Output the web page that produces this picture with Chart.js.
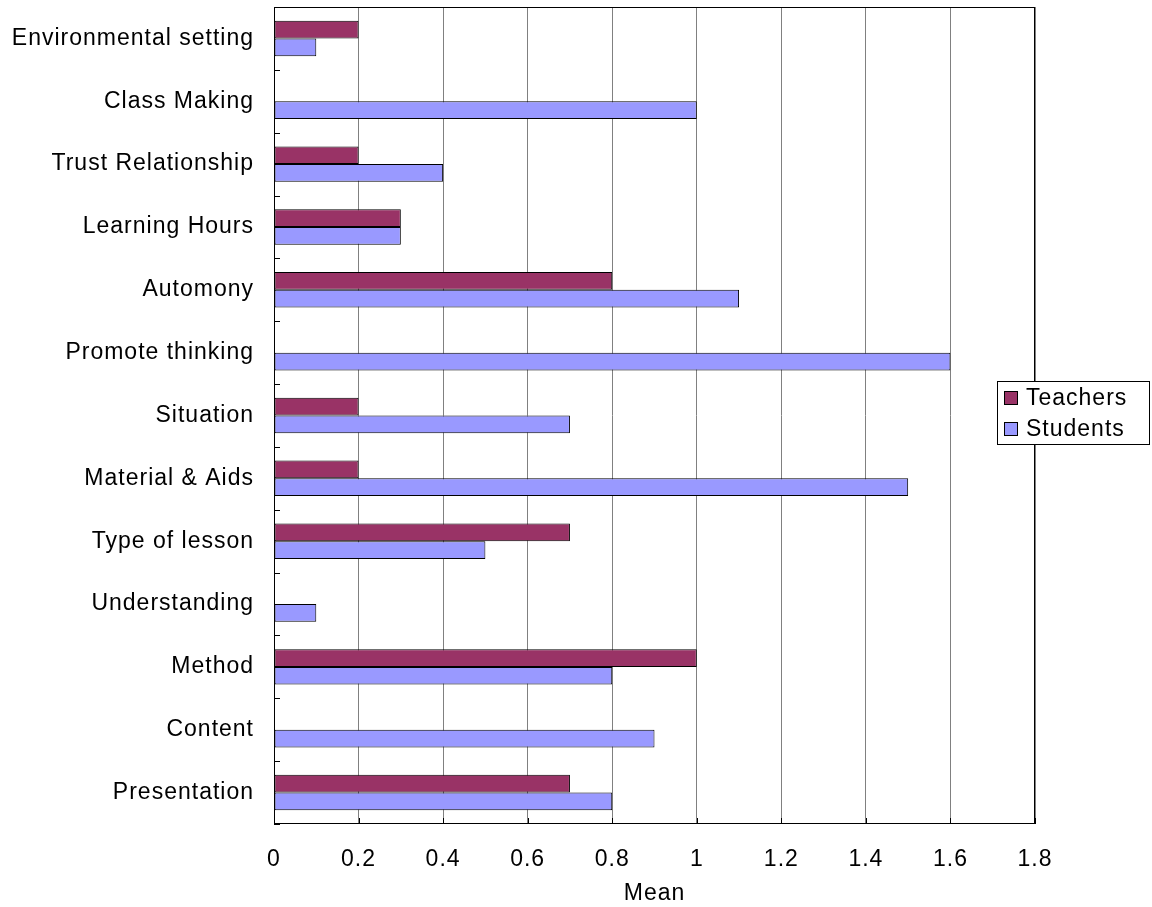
<!DOCTYPE html>
<html>
<head>
<meta charset="utf-8">
<script src="https://cdn.jsdelivr.net/npm/chart.js@4/dist/chart.umd.min.js"></script>
<style>
html,body{margin:0;padding:0;background:#fff;}
#wrap{width:1152px;height:907px;}
</style>
</head>
<body>
<div id="wrap"><canvas id="c" width="1152" height="907"></canvas></div>
<script>
const categories = ["Environmental setting","Class Making","Trust Relationship","Learning Hours","Automony","Promote thinking","Situation","Material & Aids","Type of lesson","Understanding","Method","Content","Presentation"];
const teachers = [0.2,0,0.2,0.3,0.8,0,0.2,0.2,0.7,0,1.0,0,0.7];
const students = [0.1,1.0,0.4,0.3,1.1,1.6,0.7,1.5,0.5,0.1,0.8,0.9,0.8];
const seriesNames = ["Teachers","Students"];
const xTicks = [0,0.2,0.4,0.6,0.8,1,1.2,1.4,1.6,1.8];
const axisTitle = "Mean";

const FONT = "'Liberation Sans', Arial, sans-serif";
const FS = 23;
const LS = '1px';

const spacingPlugin = {
  id:'spacing',
  beforeUpdate(chart){ chart.ctx.letterSpacing = LS; },
  beforeLayout(chart){ chart.ctx.letterSpacing = LS; },
  beforeDraw(chart){ chart.ctx.letterSpacing = LS; }
};

const framePlugin = {
  id:'frame',
  afterDraw(chart){
    const ctx = chart.ctx, a = chart.chartArea;
    ctx.save();
    ctx.strokeStyle = '#000'; ctx.lineWidth = 1;
    ctx.strokeRect(Math.round(a.left)+0.5, Math.round(a.top)+0.5, Math.round(a.right-a.left)-1, Math.round(a.bottom-a.top)-1);
    const y = chart.scales.y;
    const step = y.getPixelForTick(1)-y.getPixelForTick(0);
    ctx.beginPath();
    for(let i=0;i<=categories.length;i++){
      const p = Math.round(y.getPixelForTick(0) - step/2 + i*step)+0.5;
      ctx.moveTo(a.left, p); ctx.lineTo(a.left+6, p);
    }
    const x = chart.scales.x;
    xTicks.forEach(v=>{
      const p = Math.round(x.getPixelForValue(v))+0.5;
      ctx.moveTo(p, a.bottom); ctx.lineTo(p, a.bottom-6);
    });
    ctx.stroke();
    // legend
    const lx=997, ly=381, lw=152, lh=63;
    ctx.fillStyle='#fff';
    ctx.fillRect(lx,ly,lw,lh);
    ctx.strokeRect(lx+0.5,ly+0.5,lw,lh);
    ctx.font = FS + "px " + FONT;
    ctx.letterSpacing = LS;
    ctx.textBaseline='middle';
    chart.data.datasets.forEach((ds,i)=>{
      const cy = ly + 17 + i*31;
      ctx.fillStyle = ds.backgroundColor;
      ctx.fillRect(1004, cy-7, 14, 14);
      ctx.strokeStyle='#000';
      ctx.strokeRect(1004.5, cy-6.5, 13, 13);
      ctx.fillStyle='#000';
      ctx.fillText(ds.label, 1026, cy+1);
    });
    ctx.restore();
  }
};

new Chart(document.getElementById('c'), {
  type:'bar',
  data:{
    labels: categories,
    datasets:[
      {label: seriesNames[0], data: teachers, backgroundColor:'#993366', borderColor:'#000', borderWidth:1, borderSkipped:false},
      {label: seriesNames[1], data: students, backgroundColor:'#9999FF', borderColor:'#000', borderWidth:1, borderSkipped:false}
    ]
  },
  options:{
    indexAxis:'y',
    responsive:false,
    animation:false,
    layout:{padding:{top:7, right:117, left:0, bottom:0}},
    datasets:{bar:{categoryPercentage:0.564, barPercentage:1.0}},
    plugins:{legend:{display:false}, tooltip:{enabled:false}},
    scales:{
      x:{
        type:'linear', min:0, max:1.8,
        afterBuildTicks(s){ s.ticks = xTicks.map(v=>({value:v})); },
        grid:{color:'#808080', drawTicks:false, lineWidth:1},
        border:{display:false},
        ticks:{color:'#000', font:{family:FONT, size:FS}, padding:22, callback:(v)=>String(+v.toFixed(1))},
        title:{display:true, text:axisTitle, color:'#000', font:{family:FONT, size:FS}, padding:{top:2,bottom:0}},
        afterFit(s){ s.height = 83; s.paddingLeft = 0; s.paddingRight = 0; }
      },
      y:{
        type:'category',
        grid:{display:false, drawTicks:false},
        border:{display:false},
        ticks:{color:'#000', font:{family:FONT, size:FS}, padding:20, autoSkip:false},
        afterFit(s){ s.width = 274; s.paddingTop = 0; s.paddingBottom = 0; }
      }
    }
  },
  plugins:[spacingPlugin, framePlugin]
});
</script>
</body>
</html>
